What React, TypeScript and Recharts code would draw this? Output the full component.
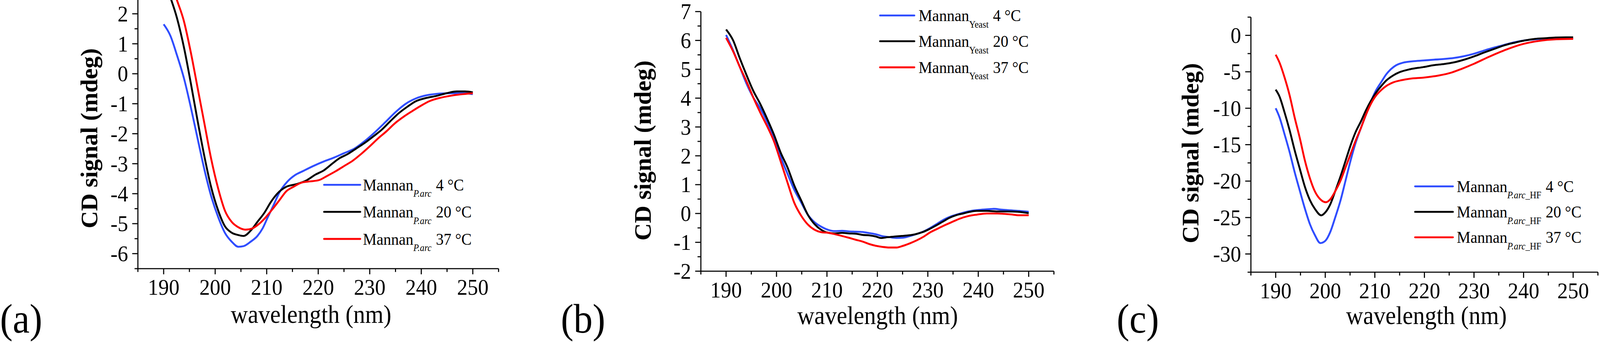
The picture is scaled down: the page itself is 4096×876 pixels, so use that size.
import { LineChart, Line, XAxis, YAxis } from 'recharts'

const SERIF = 'Liberation Serif'
const BLUE = '#2f4dff'
const BLACK = '#000000'
const RED = '#ff0000'
const SQUEEZE = 0.93 // the original figure is slightly narrowed horizontally

// tick positions (nm and mdeg)
const wavelengthTicks = [185, 190, 195, 200, 205, 210, 215, 220, 225, 230, 235, 240, 245, 250, 255]
const ticksA = [-6.5, -6, -5.5, -5, -4.5, -4, -3.5, -3, -2.5, -2, -1.5, -1, -0.5, 0, 0.5, 1, 1.5, 2]
const ticksB = [-2, -1.5, -1, -0.5, 0, 0.5, 1, 1.5, 2, 2.5, 3, 3.5, 4, 4.5, 5, 5.5, 6, 6.5, 7]
const ticksC = [-32.5, -30, -27.5, -25, -22.5, -20, -17.5, -15, -12.5, -10, -7.5, -5, -2.5, 0, 2.5]

// (a) Mannan P.arc
const wlA4 = [190, 191.3, 192.6, 194, 195.3, 196.6, 197.9, 199.2, 200.6, 201.9, 203.2, 204.5, 205.5, 206.9, 208.2, 209.2, 210.2, 211.2, 212.5, 214, 215.5, 217, 219, 221, 223, 225, 227, 229, 231, 233, 235, 237, 239, 241, 243, 245, 247, 249, 250]
const cdA4 = [1.65, 1.27, 0.61, -0.19, -1.14, -2.17, -3.19, -4.07, -4.79, -5.31, -5.6, -5.77, -5.75, -5.6, -5.41, -5.16, -4.79, -4.43, -3.95, -3.6, -3.38, -3.25, -3.08, -2.93, -2.8, -2.65, -2.5, -2.25, -1.95, -1.62, -1.28, -1.0, -0.82, -0.72, -0.67, -0.65, -0.65, -0.66, -0.68]
const wlA20 = [190, 191, 192.6, 194, 195.3, 196.6, 197.9, 199.2, 200.6, 201.9, 203.2, 204.5, 205.5, 206.9, 208.2, 209.5, 210.8, 212.1, 213.8, 215.8, 217.8, 219.4, 221.1, 222.7, 224.1, 225.7, 227.4, 229, 230.7, 232.3, 234, 235.6, 237.3, 238.9, 240.9, 242.9, 244.9, 246.9, 248.5, 250]
const cdA20 = [3.2, 2.7, 1.85, 0.83, -0.34, -1.58, -2.75, -3.77, -4.57, -5.09, -5.3, -5.38, -5.41, -5.23, -4.94, -4.65, -4.28, -3.99, -3.77, -3.68, -3.55, -3.37, -3.22, -3.0, -2.82, -2.68, -2.49, -2.31, -2.09, -1.87, -1.58, -1.32, -1.1, -0.92, -0.81, -0.74, -0.65, -0.59, -0.59, -0.62]
const wlA37 = [190, 191, 192, 194, 195.3, 196.6, 197.9, 199.2, 200.6, 201.9, 203.2, 204.5, 205.9, 207.2, 208.5, 209.8, 211.2, 212.5, 213.8, 215.2, 216.8, 218.4, 220.1, 221.7, 223.3, 225, 226.7, 228.3, 230, 231.6, 233.3, 234.9, 236.6, 238.2, 239.9, 241.5, 243.5, 245.5, 247.5, 250]
const cdA37 = [4.1, 3.5, 2.78, 1.71, 0.69, -0.48, -1.65, -2.82, -3.84, -4.57, -4.94, -5.12, -5.2, -5.16, -5.01, -4.79, -4.5, -4.21, -3.92, -3.77, -3.63, -3.59, -3.55, -3.41, -3.26, -3.08, -2.9, -2.68, -2.42, -2.16, -1.91, -1.65, -1.43, -1.25, -1.07, -0.92, -0.81, -0.74, -0.69, -0.65]

// (b) Mannan Yeast
const wlB4 = [190, 191.4, 192.7, 194.1, 195.4, 196.8, 198.1, 199.5, 200.8, 202.2, 203.5, 204.9, 206.2, 207.6, 208.9, 210.3, 211.6, 213, 214.3, 215.7, 217, 218.4, 219.7, 221.1, 222.4, 223.8, 225.1, 226.5, 227.8, 229.2, 230.5, 231.9, 233.2, 234.6, 235.9, 237.3, 238.6, 240, 241.4, 243.1, 244.8, 246.4, 248.1, 250]
const cdB4 = [6.19, 5.65, 5.09, 4.48, 4.02, 3.64, 3.19, 2.58, 1.97, 1.37, 0.83, 0.38, -0.04, -0.31, -0.46, -0.57, -0.61, -0.6, -0.62, -0.63, -0.64, -0.68, -0.72, -0.79, -0.82, -0.85, -0.84, -0.78, -0.71, -0.62, -0.5, -0.35, -0.21, -0.1, -0.03, 0.04, 0.09, 0.12, 0.14, 0.16, 0.13, 0.11, 0.09, 0.06]
const wlB20 = [190, 191.4, 192.7, 194.1, 195.4, 196.8, 198.1, 199.5, 200.8, 202.2, 203.5, 204.9, 206.2, 207.6, 208.9, 210.3, 211.6, 213, 214.3, 215.7, 217, 218.4, 219.7, 220.7, 222.1, 223.4, 224.8, 226.1, 227.5, 228.9, 230.2, 231.6, 232.9, 234.3, 235.6, 237, 238.4, 239.7, 241.7, 243.8, 245.8, 247.8, 250]
const cdB20 = [6.38, 6.0, 5.39, 4.78, 4.25, 3.79, 3.3, 2.73, 2.12, 1.59, 0.98, 0.45, -0.04, -0.38, -0.57, -0.67, -0.69, -0.67, -0.69, -0.7, -0.74, -0.76, -0.8, -0.85, -0.82, -0.8, -0.78, -0.76, -0.72, -0.65, -0.55, -0.42, -0.29, -0.15, -0.06, 0.0, 0.06, 0.09, 0.09, 0.07, 0.07, 0.06, 0.01]
const wlB37 = [190, 191.4, 192.7, 194.1, 195.4, 196.8, 198.1, 199.5, 200.8, 202.2, 203.5, 204.9, 206.2, 207.6, 208.9, 210.3, 211.6, 213, 214.3, 215.7, 217, 218.4, 219.7, 221.1, 222.4, 223.8, 225.1, 226.5, 227.8, 229.2, 230.5, 231.9, 233.2, 234.6, 236.3, 238, 239.7, 241.7, 243.8, 246.4, 248.1, 250]
const cdB37 = [6.09, 5.62, 5.09, 4.56, 4.02, 3.49, 3.04, 2.5, 1.82, 1.06, 0.38, -0.08, -0.38, -0.57, -0.65, -0.67, -0.72, -0.78, -0.84, -0.91, -0.97, -1.06, -1.12, -1.16, -1.18, -1.18, -1.12, -1.03, -0.93, -0.8, -0.65, -0.53, -0.42, -0.31, -0.18, -0.09, -0.04, 0.0, 0.0, -0.03, -0.06, -0.06]

// (c) Mannan P.arc_HF
const wlC4 = [190, 190.75, 191.8, 192.8, 193.8, 194.9, 195.9, 196.9, 197.9, 199, 200, 201, 202, 203.1, 204.1, 205.1, 206.1, 207.2, 208.2, 209.2, 210.2, 211.3, 212.3, 213.3, 214.3, 215.7, 217.7, 219.8, 221.9, 223.9, 226, 228, 230.1, 232.1, 234.2, 236.2, 238.3, 240.3, 242.3, 244.4, 246.4, 248.5, 250]
const cdC4 = [-10.0, -11.2, -13.6, -16.0, -18.7, -21.4, -23.8, -25.9, -27.4, -28.5, -28.2, -27.0, -25.0, -22.6, -19.9, -17.2, -14.8, -12.7, -10.9, -9.1, -7.6, -6.4, -5.35, -4.6, -4.1, -3.75, -3.55, -3.45, -3.34, -3.25, -3.1, -2.86, -2.5, -2.07, -1.65, -1.29, -0.93, -0.69, -0.54, -0.45, -0.39, -0.39, -0.48]
const wlC20 = [190, 190.75, 191.8, 192.8, 193.8, 194.9, 195.9, 196.9, 197.9, 199.2, 200, 201, 202, 203.1, 204.1, 205.1, 206.1, 207.2, 208.2, 209.2, 210.2, 211.3, 212.3, 213.7, 215, 217.1, 219.8, 221.9, 223.9, 226, 228, 230.1, 232.1, 234.2, 236.2, 238.3, 240.3, 242.3, 244.4, 246.4, 248.5, 250]
const cdC20 = [-7.45, -8.36, -10.6, -13.0, -15.7, -18.4, -20.8, -22.6, -23.8, -24.7, -24.3, -23.2, -21.4, -19.3, -17.2, -15.1, -13.3, -11.8, -10.3, -9.0, -7.9, -6.95, -6.2, -5.5, -5.05, -4.65, -4.35, -4.09, -3.94, -3.7, -3.34, -2.86, -2.34, -1.83, -1.35, -0.99, -0.69, -0.48, -0.39, -0.3, -0.27, -0.27]
const wlC37 = [190, 190.75, 191.8, 192.8, 193.8, 194.9, 195.9, 196.9, 197.9, 199, 200.1, 201, 202, 203.1, 204.1, 205.1, 206.1, 207.2, 208.2, 209.2, 210.2, 211.3, 212.3, 213.7, 215.4, 217.1, 219.8, 223, 225.5, 227.5, 230, 233, 236.5, 239.8, 243.2, 246.6, 250]
const cdC37 = [-2.65, -3.7, -5.8, -8.2, -11.2, -14.2, -17.2, -19.6, -21.4, -22.5, -22.9, -22.5, -21.4, -19.9, -18.1, -16.3, -14.5, -12.7, -10.9, -9.4, -8.3, -7.5, -6.95, -6.45, -6.15, -5.95, -5.8, -5.5, -5.1, -4.6, -3.9, -2.95, -1.95, -1.2, -0.75, -0.54, -0.48]

const zip = (wl: number[], cd: number[]) => wl.map((w, i) => ({ wl: w, cd: cd[i] }))

const temps = ['4 °C', '20 °C', '37 °C']
const colors = [BLUE, BLACK, RED]

const AXIS_W = 2.8
const CURVE_W = 4.8
const TICK_FONT = 58

function XTick(props: any) {
  const { x, y, payload } = props
  const major = payload.value % 10 === 0
  return (
    <g>
      <line x1={x} y1={y} x2={x} y2={y + (major ? 14.5 : 8.5)} stroke="#000" strokeWidth={AXIS_W} />
      {major && (
        <text transform={`translate(${x},${y + 67}) scale(${SQUEEZE},1)`} textAnchor="middle" fontFamily={SERIF} fontSize={TICK_FONT} fill="#000">
          {payload.value}
        </text>
      )}
    </g>
  )
}

function YTick(props: any) {
  const { x, y, payload, step } = props
  const r = payload.value / step
  const major = Math.abs(r - Math.round(r)) < 1e-6
  return (
    <g>
      <line x1={x} y1={y} x2={x - (major ? 14.5 : 8.5)} y2={y} stroke="#000" strokeWidth={AXIS_W} />
      {major && (
        <text transform={`translate(${x - 25},${y + 19.5}) scale(${SQUEEZE},1)`} textAnchor="end" fontFamily={SERIF} fontSize={TICK_FONT} fill="#000">
          {payload.value}
        </text>
      )}
    </g>
  )
}

interface PanelProps {
  left: number
  width: number
  margin: { top: number; right: number; bottom: number; left: number }
  domain: [number, number]
  ticks: number[]
  step: number
  series: { wl: number[]; cd: number[] }[]
}

function CDPanel({ left, width, margin, domain, ticks, step, series }: PanelProps) {
  return (
    <div style={{ position: 'absolute', left, top: 0 }}>
      <LineChart width={width} height={876} margin={margin}>
        <XAxis
          type="number"
          dataKey="wl"
          domain={[185, 255]}
          ticks={wavelengthTicks}
          interval={0}
          allowDataOverflow
          height={100}
          tickSize={0}
          tickMargin={0}
          tickLine={false}
          axisLine={{ stroke: '#000', strokeWidth: AXIS_W }}
          tick={(p: any) => <XTick {...p} />}
        />
        <YAxis
          type="number"
          domain={domain}
          ticks={ticks}
          interval={0}
          allowDataOverflow
          width={100}
          tickSize={0}
          tickMargin={0}
          tickLine={false}
          axisLine={{ stroke: '#000', strokeWidth: AXIS_W }}
          tick={(p: any) => <YTick {...p} step={step} />}
        />
        {series.map((s, i) => (
          <Line
            key={i}
            data={zip(s.wl, s.cd)}
            dataKey="cd"
            type="monotone"
            stroke={colors[i]}
            strokeWidth={CURVE_W}
            dot={false}
            isAnimationActive={false}
          />
        ))}
      </LineChart>
    </div>
  )
}

function LegendBlock({ lineX1, lineX2, textX, ys, sub }: { lineX1: number; lineX2: number; textX: number; ys: number[]; sub: { t: string; italic: boolean }[] }) {
  return (
    <g>
      {ys.map((y, i) => (
        <g key={i}>
          <line x1={lineX1} y1={y} x2={lineX2} y2={y} stroke={colors[i]} strokeWidth={CURVE_W} strokeLinecap="round" />
          <text transform={`translate(${textX},${y + 14.6}) scale(${SQUEEZE},1)`} fontFamily={SERIF} fontSize={42.5} fill="#000">
            Mannan
            {sub.map((s, j) => (
              <tspan key={j} fontSize={24.6} fontStyle={s.italic ? 'italic' : 'normal'} dy={j === 0 ? 16.3 : 0}>
                {s.t}
              </tspan>
            ))}
            <tspan dx={12} dy={-16.3}>
              {temps[i]}
            </tspan>
          </text>
        </g>
      ))}
    </g>
  )
}

function YTitle({ x, y }: { x: number; y: number }) {
  return (
    <text transform={`translate(${x},${y}) rotate(-90)`} textAnchor="middle" fontFamily={SERIF} fontWeight="bold" fontSize={62} fill="#000">
      CD signal (mdeg)
    </text>
  )
}

function XTitle({ x, y }: { x: number; y: number }) {
  return (
    <text transform={`translate(${x},${y}) scale(${SQUEEZE},1)`} textAnchor="middle" fontFamily={SERIF} fontSize={65} fill="#000">
      wavelength (nm)
    </text>
  )
}

function PanelLetter({ x, label }: { x: number; label: string }) {
  return (
    <text transform={`translate(${x},852) scale(${SQUEEZE},1)`} fontFamily={SERIF} fontSize={105} fill="#000">
      {label}
    </text>
  )
}

export default function App() {
  return (
    <div style={{ position: 'fixed', left: 0, top: 0, width: 4096, height: 876, background: '#fff', overflow: 'hidden' }}>
      <CDPanel
        left={0}
        width={1300}
        margin={{ top: 0, right: 23.7, bottom: 87.9, left: 253 }}
        domain={[-6.5, 2.46]}
        ticks={ticksA}
        step={1}
        series={[{ wl: wlA4, cd: cdA4 }, { wl: wlA20, cd: cdA20 }, { wl: wlA37, cd: cdA37 }]}
      />
      <CDPanel
        left={1500}
        width={1250}
        margin={{ top: 29.7, right: 52, bottom: 81.4, left: 194.2 }}
        domain={[-2, 7]}
        ticks={ticksB}
        step={1}
        series={[{ wl: wlB4, cd: cdB4 }, { wl: wlB20, cd: cdB20 }, { wl: wlB37, cd: cdB37 }]}
      />
      <CDPanel
        left={2950}
        width={1146}
        margin={{ top: 43.9, right: 5.3, bottom: 78.8, left: 152.3 }}
        domain={[-32.5, 2.5]}
        ticks={ticksC}
        step={5}
        series={[{ wl: wlC4, cd: cdC4 }, { wl: wlC20, cd: cdC20 }, { wl: wlC37, cd: cdC37 }]}
      />
      <svg width={4096} height={876} style={{ position: 'absolute', left: 0, top: 0, pointerEvents: 'none' }}>
        <PanelLetter x={0} label="(a)" />
        <PanelLetter x={1435.7} label="(b)" />
        <PanelLetter x={2858.7} label="(c)" />
        <YTitle x={249} y={354.3} />
        <YTitle x={1666} y={385.5} />
        <YTitle x={3067.6} y={392.4} />
        <XTitle x={796.4} y={826.7} />
        <XTitle x={2246.8} y={829.6} />
        <XTitle x={3651.7} y={829.6} />
        <LegendBlock lineX1={829.6} lineX2={922.3} textX={928.9} ys={[473.4, 542.7, 612]} sub={[{ t: 'P.arc', italic: true }]} />
        <LegendBlock lineX1={2252.9} lineX2={2340.7} textX={2351.5} ys={[39.7, 105.7, 172.5]} sub={[{ t: 'Yeast', italic: false }]} />
        <LegendBlock
          lineX1={3622.6}
          lineX2={3719.5}
          textX={3729.3}
          ys={[477.3, 542.7, 607.8]}
          sub={[{ t: 'P.arc', italic: true }, { t: '_HF', italic: false }]}
        />
      </svg>
    </div>
  )
}
